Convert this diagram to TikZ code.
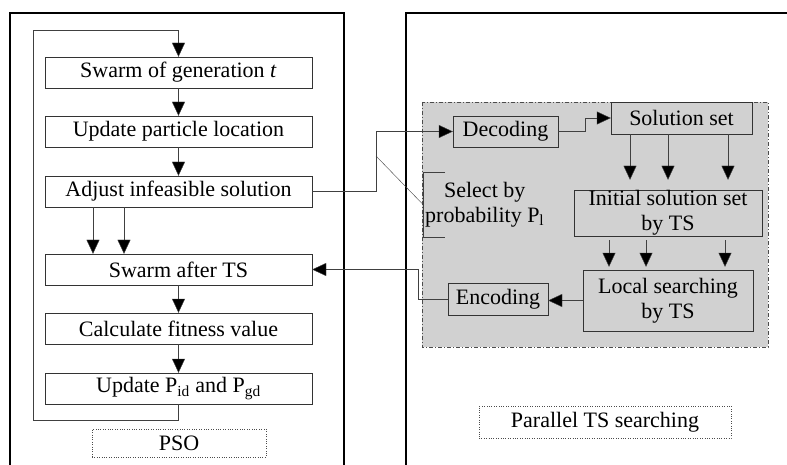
\documentclass[tikz,border=0pt]{standalone}
\usepackage{fontspec}
\setmainfont{Liberation Serif}
\usetikzlibrary{arrows.meta,positioning,calc}
\tikzset{
  doboz/.style={draw=black!80,fill=white,inner sep=0pt,align=center,minimum width=267pt,minimum height=31pt},
  rbox/.style={draw=black!80,fill=black!18,inner sep=0pt,align=center},
  nyil/.style={draw=black!75,-{Triangle[length=14pt,width=13pt,fill=black]}},
  panel/.style={draw=black,line width=1.5pt},
  cimke/.style={draw=black!70,dotted,inner sep=0pt},
  terulet/.style={draw=black!70,fill=black!18,dash pattern=on 4pt off 2pt on 1pt off 2pt},
}

\begin{document}
\begin{tikzpicture}[x=1pt,y=-1pt,font=\fontsize{22}{25}\selectfont]
  \useasboundingbox (0,0) rectangle (787,465);
  % panels
  \draw[panel] (10,466) |- (344,13) -- (344,466);
  \draw[panel] (406,466) |- (788,13);
  \draw[terulet] (422,102) rectangle (768,347);

  % PSO side
  \node[doboz] (gen) at (178.5,72.5) {Swarm of generation \textit{t}};
  \node[doboz] (upd) at (178.5,131.5) {Update particle location};
  \node[doboz] (adj) at (178.5,191.5) {Adjust infeasible solution};
  \node[doboz] (aft) at (178.5,269.5) {Swarm after TS};
  \node[doboz] (fit) at (178.5,328.5) {Calculate fitness value};
  \node[doboz] (best) at (178.5,388.5) {Update P\textsubscript{id} and P\textsubscript{gd}};
  \node[cimke,minimum width=174pt,minimum height=28pt] (pso) at (179,443) {PSO};

  \draw[nyil] (gen) -- (upd);
  \draw[nyil] (upd) -- (adj);
  \draw[nyil] (aft) -- (fit);
  \draw[nyil] (fit) -- (best);
  \foreach \d in {-85.5,-54.5}
    \draw[nyil] ([xshift=\d pt]adj.south) -- ([xshift=\d pt]aft.north);
  \draw[nyil] (best.south) -- ++(0,16) -| (33,30) -| (gen.north);

  % TS side
  \node[rbox,minimum width=105pt,minimum height=31pt] (dec) at (505.5,131.5) {Decoding};
  \node[rbox,minimum width=141pt,minimum height=32pt] (sol) at (681.5,118) {Solution set};
  \node[rbox,minimum width=188pt,minimum height=46pt] (init) at (668,213) {Initial solution set\\by TS};
  \node[rbox,minimum width=170pt,minimum height=61pt] (loc) at (668,300.5) {Local searching\\by TS};
  \node[rbox,minimum width=100pt,minimum height=32pt] (enc) at (498,299) {Encoding};
  \node[anchor=west,inner xsep=2pt,inner ysep=0pt,minimum height=65pt,align=center] (sel) at (423,204.5)
    {Select by\\probability P\textsubscript{l}};
  \node[cimke,minimum width=252pt,minimum height=32pt] (par) at (605,422) {Parallel TS searching};

  \draw[nyil] (adj.east) -- ++(64,0) coordinate (tap) |- (dec.west);
  \coordinate (ag) at (376,156);
  \draw[black!75] (ag) -- (sel.west);
  \draw[black!75] ([xshift=22pt]sel.north west) -- (sel.north west) -- (sel.south west) -- ([xshift=22pt]sel.south west);
  \draw[nyil] (dec.east) -- ++(27,0) |- (sol.west);
  \foreach \x in {630,668,728}
    \draw[nyil,shorten >=10pt] (sol.south -| \x,0) -- (init.north -| \x,0);
  \foreach \x in {609,646,725}
    \draw[nyil,shorten <=4pt,shorten >=3pt] (init.south -| \x,0) -- (loc.north -| \x,0);
  \draw[nyil] (loc.west) -- (loc.west -| enc.east);
  \draw[nyil] (enc.west) -- ++(-30,0) |- (aft.east);
\end{tikzpicture}
\end{document}
